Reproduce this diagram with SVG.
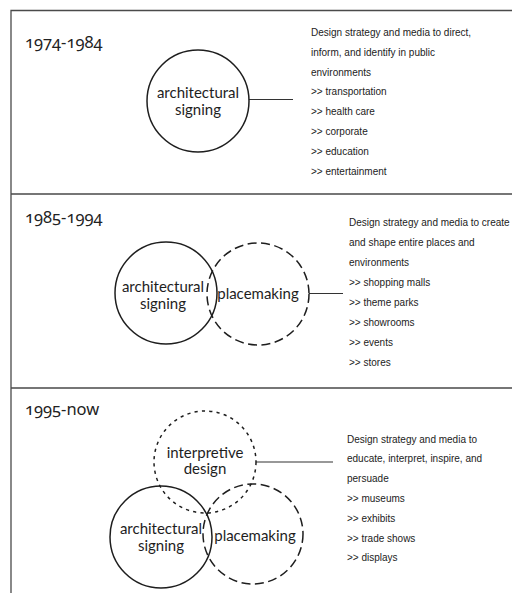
<svg xmlns="http://www.w3.org/2000/svg" width="512" height="593" viewBox="0 0 512 593">
<style>
.frame{stroke:#4a4a4a;stroke-width:1.3;fill:none}
.c{fill:none;stroke:#1e1e1e;stroke-width:1.5}
.dash{stroke-dasharray:9 4.5}
.dot{stroke-dasharray:3.2 4.2}
.conn{stroke:#333;stroke-width:1.1;fill:none}
.yr{font-family:"Noto Sans","Open Sans",sans-serif;font-size:16.5px;fill:#222;font-variant-numeric:oldstyle-nums}
.lbl{font-family:Lato,"Open Sans",sans-serif;font-size:15px;fill:#1e1e1e;text-anchor:middle}
.desc{font-family:"Liberation Sans",Arial,sans-serif;font-size:10px;fill:#222}
</style>
<rect width="512" height="593" fill="#fff"/>
<g id="frame">
<path class="frame" d="M11 593V10.5H512M11 194H512M11 388H512"/>
</g>
<g id="connectors">
<line class="conn" x1="249" y1="99.5" x2="293" y2="99.5"/>
<line class="conn" x1="309" y1="293.5" x2="343" y2="293.5"/>
<line class="conn" x1="256" y1="462" x2="333" y2="462"/>
</g>
<g id="sec1">
<text class="yr" x="25" y="48">1974-1984</text>
<g id="s1-arch">
<circle class="c" cx="198" cy="101" r="51"/>
<text class="lbl" x="198" y="97.5">architectural</text>
<text class="lbl" x="198" y="115">signing</text>
</g>
<g id="s1-desc" class="desc">
<text x="311" y="36">Design strategy and media to direct,</text>
<text x="311" y="55.8">inform, and identify in public</text>
<text x="311" y="75.6">environments</text>
<text x="311" y="95.4">&gt;&gt; transportation</text>
<text x="311" y="115.2">&gt;&gt; health care</text>
<text x="311" y="135">&gt;&gt; corporate</text>
<text x="311" y="154.8">&gt;&gt; education</text>
<text x="311" y="174.6">&gt;&gt; entertainment</text>
</g>
</g>
<g id="sec2">
<text class="yr" x="25" y="223">1985-1994</text>
<g id="s2-arch">
<circle class="c" cx="166" cy="293" r="51"/>
<text class="lbl" x="163" y="292">architectural</text>
<text class="lbl" x="163" y="309">signing</text>
</g>
<g id="s2-place">
<circle class="c dash" cx="258" cy="294" r="51"/>
<text class="lbl" x="258" y="298.5">placemaking</text>
</g>
<g id="s2-desc" class="desc">
<text x="349" y="225.5">Design strategy and media to create</text>
<text x="349" y="245.5">and shape entire places and</text>
<text x="349" y="265.5">environments</text>
<text x="349" y="285.5">&gt;&gt; shopping malls</text>
<text x="349" y="305.5">&gt;&gt; theme parks</text>
<text x="349" y="325.5">&gt;&gt; showrooms</text>
<text x="349" y="345.5">&gt;&gt; events</text>
<text x="349" y="365.5">&gt;&gt; stores</text>
</g>
</g>
<g id="sec3">
<text class="yr" x="25" y="415">1995-now</text>
<g id="s3-interp">
<circle class="c dot" cx="205" cy="462" r="51"/>
<text class="lbl" x="205" y="457.5">interpretive</text>
<text class="lbl" x="205" y="474">design</text>
</g>
<g id="s3-arch">
<circle class="c" cx="161" cy="537" r="51"/>
<text class="lbl" x="161" y="534">architectural</text>
<text class="lbl" x="161" y="551">signing</text>
</g>
<g id="s3-place">
<circle class="c dash" cx="253" cy="534" r="50"/>
<text class="lbl" x="255" y="541">placemaking</text>
</g>
<g id="s3-desc" class="desc">
<text x="347" y="442.5">Design strategy and media to</text>
<text x="347" y="462.3">educate, interpret, inspire, and</text>
<text x="347" y="482.1">persuade</text>
<text x="347" y="501.9">&gt;&gt; museums</text>
<text x="347" y="521.7">&gt;&gt; exhibits</text>
<text x="347" y="541.5">&gt;&gt; trade shows</text>
<text x="347" y="561.3">&gt;&gt; displays</text>
</g>
</g>
</svg>
